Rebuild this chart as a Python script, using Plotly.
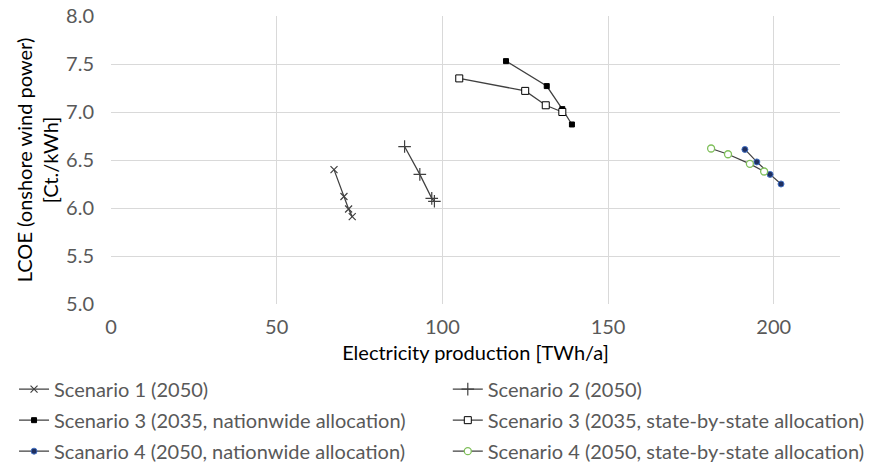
import plotly.graph_objects as go

s1_x = [67.3, 70.3, 71.7, 72.8]
s1_y = [6.40, 6.12, 5.99, 5.91]
s2_x = [88.6, 93.2, 96.8, 97.6]
s2_y = [6.64, 6.35, 6.10, 6.07]
s3n_x = [119.2, 131.5, 136.2, 139.1]
s3n_y = [7.53, 7.27, 7.03, 6.87]
s3s_x = [105.1, 125.0, 131.2, 136.2]
s3s_y = [7.35, 7.22, 7.07, 7.00]
s4n_x = [191.3, 194.9, 198.9, 202.2]
s4n_y = [6.61, 6.48, 6.35, 6.25]
s4s_x = [181.1, 186.2, 192.8, 197.1]
s4s_y = [6.62, 6.56, 6.46, 6.38]

names = ["Scenario 1 (2050)", "Scenario 2 (2050)",
         "Scenario 3 (2035, nationwide allocation)", "Scenario 3 (2035, state-by-state allocation)",
         "Scanario 4 (2050, nationwide allocation)", "Scenario 4 (2050, state-by-state allocation)"]

LINE = "#404040"
fig = go.Figure()
def add(x, y, name, symbol, size, color, lcolor, lw, legend, grp):
    fig.add_trace(go.Scatter(x=x, y=y, name=name, mode="lines+markers",
                             legend=legend, legendgroup=grp,
                             line=dict(color=LINE, width=1.25),
                             marker=dict(symbol=symbol, size=size, color=color,
                                         line=dict(color=lcolor, width=lw))))

add(s1_x, s1_y, names[0], "x-thin", 7, LINE, LINE, 1.2, "legend", "a")
add(s2_x, s2_y, names[1], "cross-thin", 9, LINE, LINE, 1.2, "legend2", "b")
add(s3n_x, s3n_y, names[2], "square", 5, "#000000", "#000000", 1, "legend", "c")
add(s3s_x, s3s_y, names[3], "square", 7, "#ffffff", "#000000", 1, "legend2", "d")
add(s4n_x, s4n_y, names[4], "circle", 6, "#1f2f5f", "#4472c4", 1, "legend", "e")
add(s4s_x, s4s_y, names[5], "circle", 7, "#ffffff", "#7fbf5a", 1.3, "legend2", "f")

leg = dict(orientation="v", xanchor="left", y=-0.228, yanchor="top",
           font=dict(size=20, color="#595959", family="Lato"), tracegroupgap=2, itemwidth=30,
           bgcolor="rgba(0,0,0,0)")

fig.update_layout(
    width=880, height=465,
    margin=dict(l=111, r=40, t=16, b=161, autoexpand=False),
    paper_bgcolor="white", plot_bgcolor="white",
    font=dict(family="Lato", size=20, color="#595959"),
    xaxis=dict(range=[0, 220], tickvals=[0, 50, 100, 150, 200], showgrid=True,
               gridcolor="#d9d9d9", gridwidth=1, zeroline=False, showline=False,
               ticks="", tickfont=dict(size=20, color="#595959"), ticklabelstandoff=9,
               title=dict(text="Electricity production [TWh/a]", font=dict(size=20, color="#000000"), standoff=8)),
    yaxis=dict(range=[5.0, 8.0], tickvals=[5.0, 5.5, 6.0, 6.5, 7.0, 7.5, 8.0], tickformat=".1f",
               showgrid=True, gridcolor="#d9d9d9", gridwidth=1, zeroline=False, showline=False,
               ticks="", tickfont=dict(size=20, color="#595959"), ticklabelstandoff=16,
               title=dict(text="LCOE (onshore wind power)<br>[Ct./kWh]", font=dict(size=20, color="#000000"), standoff=2)),
    legend=dict(leg, x=-0.133),
    legend2=dict(leg, x=0.462),
)
fig.write_html("out.html")
